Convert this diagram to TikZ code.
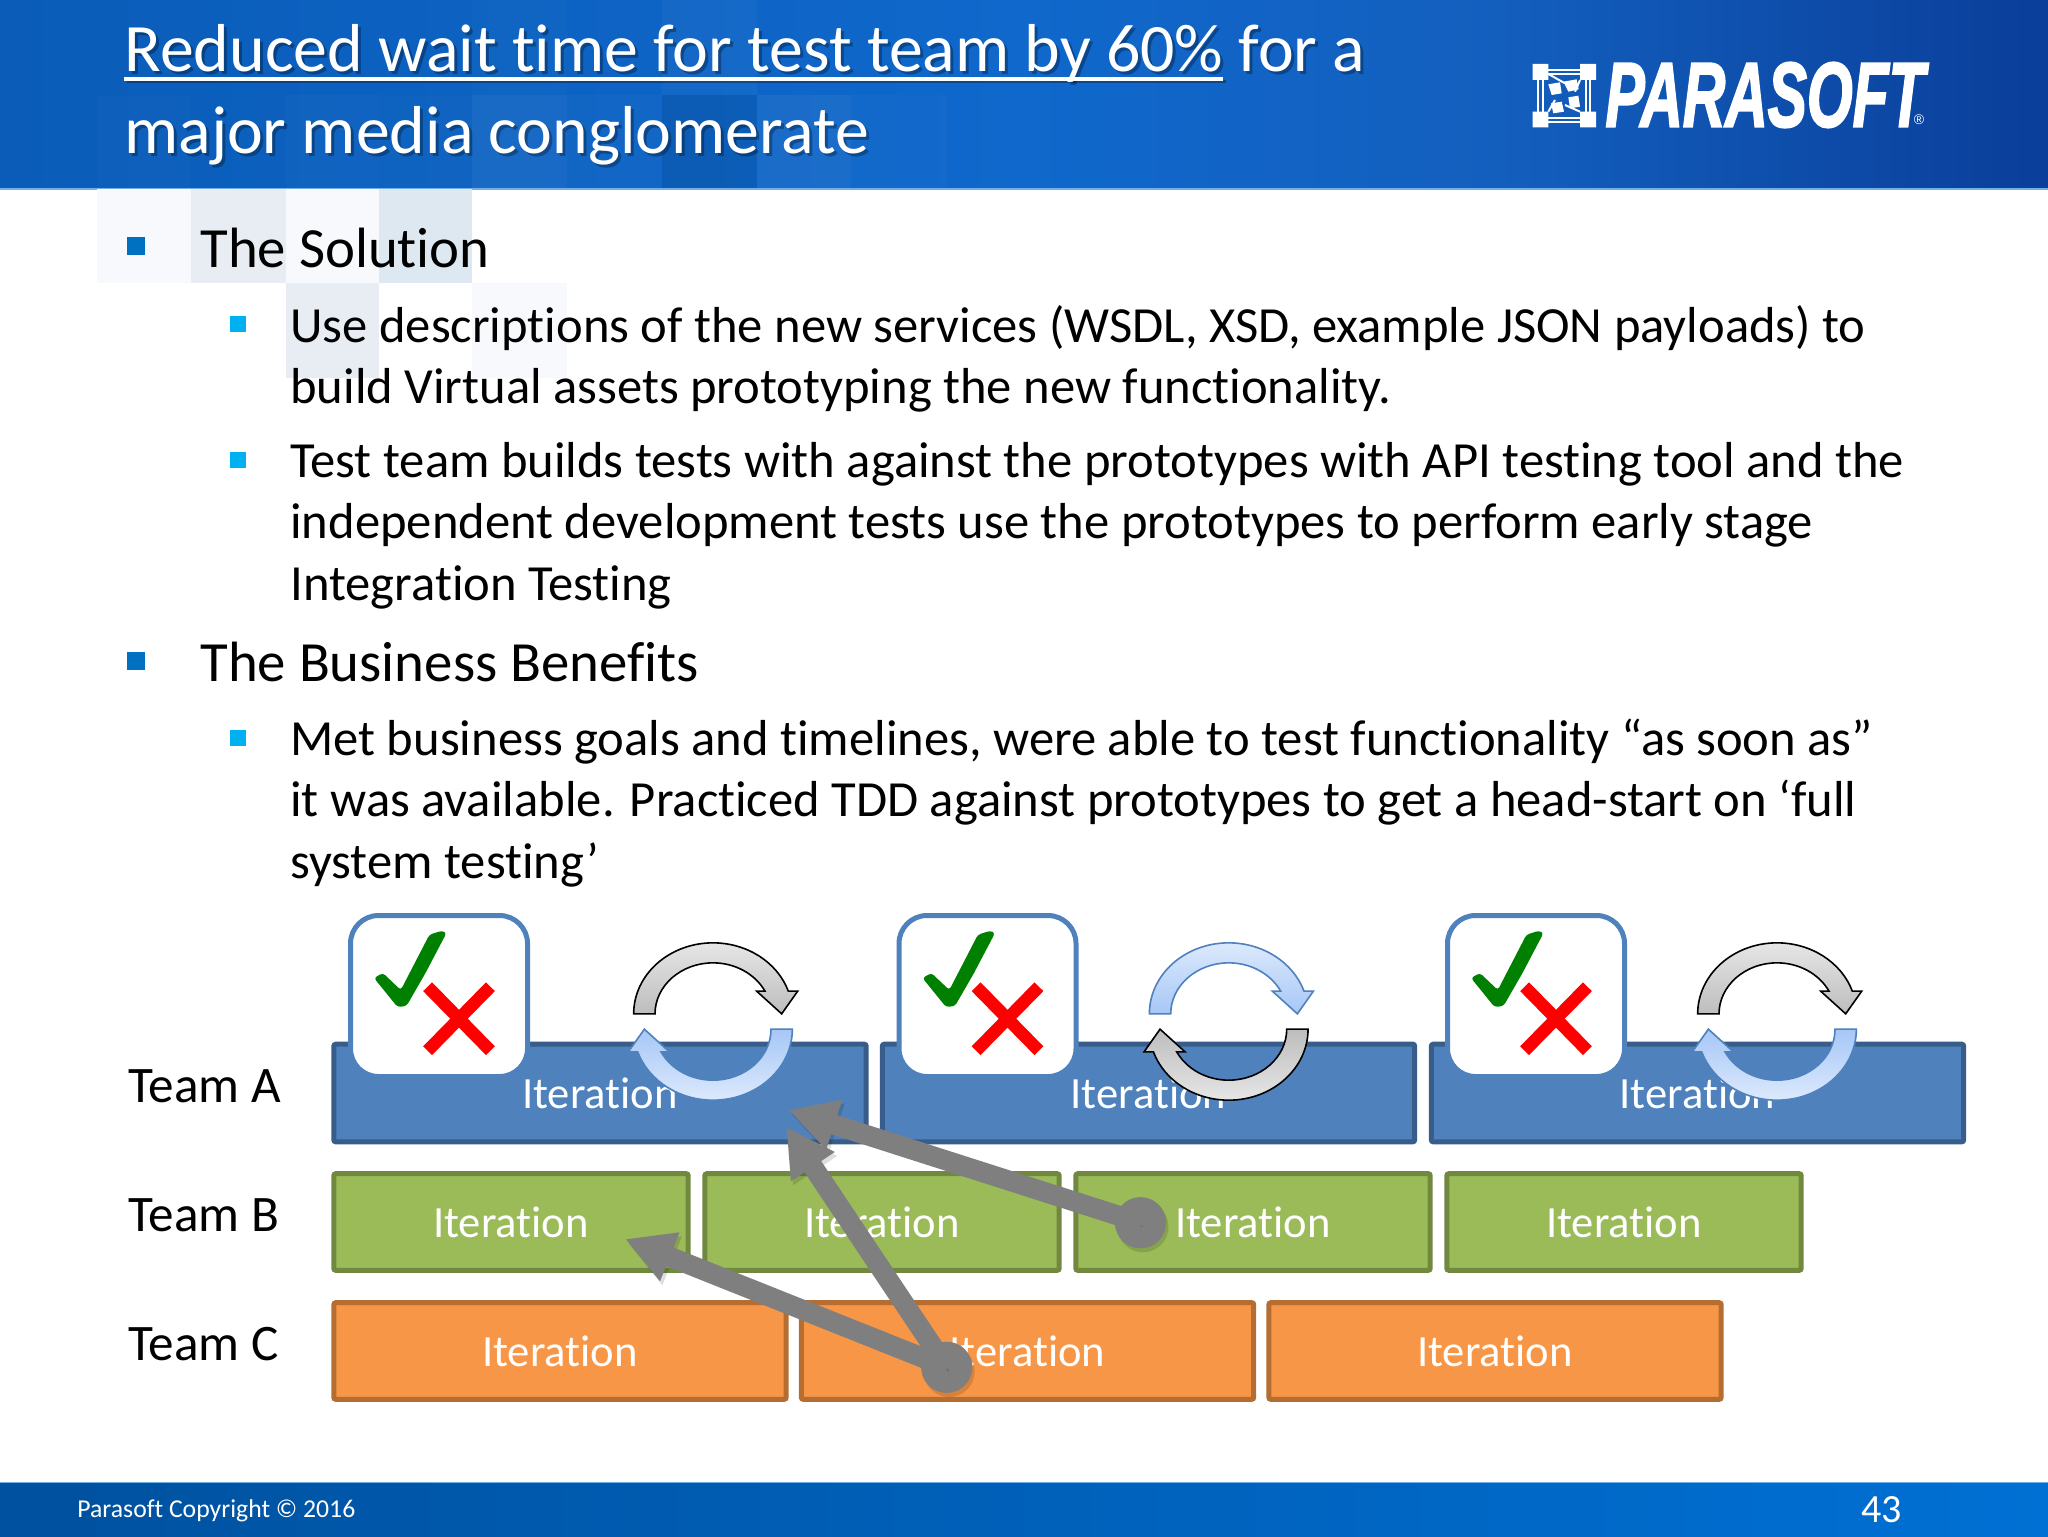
\documentclass[tikz,border=0pt]{standalone}
\usepackage{fontspec}
\setmainfont{Carlito}[Ligatures=NoCommon]
\newfontfamily\logofont{Liberation Sans}[BoldItalicFeatures={FakeBold=2.5}]
\newfontfamily\regfont{Liberation Sans}
\usetikzlibrary{arrows.meta}
\definecolor{barA}{HTML}{4F81BD}\definecolor{barAline}{HTML}{385D8A}
\definecolor{barB}{HTML}{9BBB59}\definecolor{barBline}{HTML}{71893F}
\definecolor{barC}{HTML}{F79646}\definecolor{barCline}{HTML}{B66D31}
\definecolor{linkgrey}{HTML}{7F7F7F}
\definecolor{bulA}{HTML}{0070C0}\definecolor{bulB}{HTML}{00B0F0}
\definecolor{hdrL}{HTML}{0A5CB8}\definecolor{hdrM}{HTML}{1068CC}\definecolor{hdrN}{HTML}{135FBE}\definecolor{hdrR}{HTML}{0A3E9A}
\definecolor{ftrL}{HTML}{00519F}\definecolor{ftrM}{HTML}{005FB8}\definecolor{ftrR}{HTML}{0070D4}
\definecolor{edge}{HTML}{6FB0E8}
\definecolor{tickgreen}{HTML}{008000}
\definecolor{blueT}{HTML}{DCE9FC}\definecolor{blueB}{HTML}{A6C7F7}
\definecolor{greyT}{HTML}{E6E6E6}\definecolor{greyB}{HTML}{BDBDBD}
\definecolor{tintA}{HTML}{F8F9FC}\definecolor{tintB}{HTML}{E8EDF4}\definecolor{tintC}{HTML}{DDE8F0}
\pgfdeclarehorizontalshading{headerband}{100bp}{color(0bp)=(hdrL); color(25bp)=(hdrL); color(50bp)=(hdrM); color(61.6bp)=(hdrN); color(75bp)=(hdrR); color(100bp)=(hdrR)}
\tikzset{
  barbox/.style={draw=#1line,fill=#1,line width=2.5pt,rounded corners=1pt,inner sep=0,text=white,font=\fontsize{22.3}{26}\selectfont},
  cardbox/.style={draw=barA,fill=white,line width=2.5pt,rounded corners=14pt},
  teamlabel/.style={anchor=base west,inner sep=0,font=\fontsize{25.6}{30}\selectfont},
  lone/.style={anchor=base west,inner sep=0,font=\fontsize{28.4}{32}\selectfont},
  ltwo/.style={anchor=base west,inner sep=0,font=\fontsize{25.3}{30.7}\selectfont},
  titletxt/.style={anchor=base west,inner sep=0,text=white,font=\fontsize{33.9}{40.7}\selectfont},
  shadowtxt/.style={titletxt,text=black,text opacity=0.3},
  softshadow/.style={preaction={#1,opacity=0.13,transform canvas={shift={(1.2pt,-2pt)}}}},
  dotnode/.style={circle,fill=linkgrey,inner sep=0,minimum size=25.6pt,softshadow={fill=black}},
  link/.style={line width=10pt,draw=linkgrey,-{Triangle[length=24pt,width=24.5pt]},softshadow={draw=black}},
  bulone/.style={fill=bulA,inner sep=0,minimum size=9pt},
  bultwo/.style={fill=bulB,inner sep=0,minimum size=8pt},
  liteTile/.style={fill=white,opacity=#1},
  darkTile/.style={fill=black,opacity=#1},
}
\newcommand\titleul[1]{\setbox0\hbox{#1}\rlap{\rule[-4.4pt]{\wd0}{1.6pt}}\box0\relax}
% one curved arrow of a cycle: centre x, centre y, rotation, outline, top colour, bottom colour
\newcommand\cyclearrow[6]{%
  \begin{scope}[shift={(#1,#2)},scale=1/3,rotate=#3]
    \draw[draw=#4,line width=0.8pt,line join=miter,top color=#5,bottom color=#6]
      (-238,-23) .. controls (-238,-141) and (-131,-236) .. (0,-236)
      .. controls (102,-236) and (193,-178) .. (226,-91) -- (254,-91) -- (206,-23) -- (131,-91) -- (156,-91)
      .. controls (126,-143) and (66,-176) .. (0,-176)
      .. controls (-96,-176) and (-174,-107) .. (-174,-23) -- cycle;
  \end{scope}}
% tick and cross of a card whose outer top left corner is given
\newcommand\checkcross[2]{%
  \begin{scope}[shift={(#1,#2)}]
    \fill[tickgreen,rounded corners=1.5pt] (27.5,65) -- (36.4,60) -- (54.3,77) -- (82.9,21.7) -- (95.4,17.7) -- (100,20) -- (79,60) -- (60,93) -- (51,94) -- cycle;
    \draw[red,line width=6.25pt] (81.1,73.7) -- (143.9,137.7) (143.9,73.7) -- (81.1,137.7);
  \end{scope}}
\begin{document}
\begin{tikzpicture}[x=0.5pt,y=-0.5pt]
\useasboundingbox (0,0) rectangle (2048,1536);
\fill[white] (0,0) rectangle (2048,1536);
% header band
\shade[shading=headerband] (0,0) rectangle (2048,189);
\fill[liteTile=0.015] (97,95) rectangle (191,189);
\fill[liteTile=0.02] (286,95) rectangle (379,189);
\fill[liteTile=0.015] (379,95) rectangle (472,189);
\fill[liteTile=0.05] (472,95) rectangle (567,189);
\fill[liteTile=0.02] (567,95) rectangle (662,189);
\fill[darkTile=0.08] (662,95) rectangle (757,189);
\fill[liteTile=0.05] (757,95) rectangle (851,189);
\fill[liteTile=0.02] (851,95) rectangle (947,189);
\fill[liteTile=0.03] (662,0) rectangle (757,95);
\fill[liteTile=0.015] (472,0) rectangle (567,95);
\fill[edge] (0,187.5) rectangle (2048,189.5);
% pale tiles under the header
\fill[tintA] (97,189) rectangle (191,283);
\fill[tintB] (191,189) rectangle (286,283);
\fill[tintA] (286,189) rectangle (379,283);
\fill[tintC] (379,189) rectangle (472,283);
\fill[tintB] (286,283) rectangle (379,378);
\fill[tintA] (472,283) rectangle (567,378);
% footer band
\shade[left color=ftrL,middle color=ftrM,right color=ftrR] (0,1482) rectangle (2048,1536);
\fill[edge] (0,1481.5) rectangle (2048,1483);
\node[anchor=base west,inner sep=0,text=white,font=\fontsize{12.85}{15}\selectfont] (copy) at (77,1517) {Parasoft Copyright © 2016};
\node[anchor=base west,inner sep=0,text=white,font=\fontsize{20}{24}\selectfont] (page) at (1861,1522) {43};
% title
\node[shadowtxt] (titleshadowA) at (127,74.5) {\titleul{Reduced wait time for test team by 60\%} for a};
\node[shadowtxt] (titleshadowB) at (127,156) {major media conglomerate};
\node[titletxt] (titleA) at (124,71.7) {\titleul{Reduced wait time for test team by 60\%} for a};
\node[titletxt] (titleB) at (124,153) {major media conglomerate};
% logo
\node[anchor=center,inner sep=0,text=white] (logo) at (1765,95) {\resizebox{159.5pt}{32pt}{\logofont\bfseries\itshape PARASOFT}};
\node[anchor=center,inner sep=0,text=white,font=\regfont\fontsize{7}{8}\selectfont] (reg) at (1919,120) {®};
\begin{scope}[shift={(1520,50)},scale=1/3]
  \fill[white] (38,42) rectangle (85,90) (180,42) rectangle (228,90) (38,185) rectangle (85,232) (180,185) rectangle (228,232);
  \draw[white,line width=1pt] (85,60) -- (180,60) (85,72) -- (180,72) (85,203) -- (180,203) (85,215) -- (180,215)
     (55,90) -- (55,185) (68,90) -- (68,185) (198,90) -- (198,185) (211,90) -- (211,185);
  \draw[white,line width=1pt] (85,72) -- (135,100) (180,90) -- (165,125) (180,185) -- (135,165) (85,185) -- (105,150);
  \fill[white] (85,103) -- (120,97) -- (125,130) -- (95,135) -- cycle
     (130,95) -- (170,88) -- (176,118) -- (145,125) -- cycle
     (145,142) -- (175,137) -- (180,170) -- (150,175) -- cycle
     (93,160) -- (125,155) -- (132,185) -- (100,190) -- cycle;
\end{scope}
% body text
\node[bulone] (b1) at (136,246) {};
\node[lone] (t1) at (200,267) {The Solution};
\node[bultwo] (b2) at (237.5,324) {};
\node[ltwo] (t2) at (290,342.5) {\vtop{\hbox{Use descriptions of the new services (WSDL, XSD, example JSON payloads) to}\hbox{build Virtual assets prototyping the new functionality.}}};
\node[bultwo] (b3) at (237.5,460) {};
\node[ltwo] (t3) at (290,477.5) {\vtop{\hbox{Test team builds tests with against the prototypes with API testing tool and the}\hbox{independent development tests use the prototypes to perform early stage}\hbox{Integration Testing}}};
\node[bulone] (b4) at (136,661) {};
\node[lone] (t4) at (200,681) {The Business Benefits};
\node[bultwo] (b5) at (237.5,738) {};
\node[ltwo] (t5) at (290,755.5) {\vtop{\hbox{Met business goals and timelines, were able to test functionality “as soon as”}\hbox{it was available. Practiced TDD against prototypes to get a head-start on ‘full}\hbox{system testing’}}};
% team labels
\node[teamlabel] (ta) at (128,1102) {Team A};
\node[teamlabel] (tb) at (128,1231) {Team B};
\node[teamlabel] (tc) at (128,1360) {Team C};
% iteration bars
\newcommand\iterbar[6]{\node[barbox=#2,minimum width=#5*0.5pt-1.8pt,minimum height=#6*0.5pt-2.2pt] (#1) at (#3,#4) {Iteration};}
\iterbar{a1}{barA}{600}{1093}{536}{102}
\iterbar{a2}{barA}{1148.5}{1093}{536}{102}
\iterbar{a3}{barA}{1697.5}{1093}{536}{102}
\iterbar{b1bar}{barB}{511}{1222}{358}{101}
\iterbar{b2bar}{barB}{882}{1222}{358}{101}
\iterbar{b3bar}{barB}{1253}{1222}{358}{101}
\iterbar{b4bar}{barB}{1624}{1222}{358}{101}
\iterbar{c1}{barC}{560}{1351}{456}{101}
\iterbar{c2}{barC}{1027.5}{1351}{456}{101}
\iterbar{c3}{barC}{1495}{1351}{456}{101}
% cards
\node[cardbox,minimum width=88.5pt,minimum height=80.5pt,inner sep=0] (card1) at (439,996) {};
\node[cardbox,minimum width=88.5pt,minimum height=80.5pt,inner sep=0] (card2) at (987.5,996) {};
\node[cardbox,minimum width=88.5pt,minimum height=80.5pt,inner sep=0] (card3) at (1536,996) {};
\checkcross{346.5}{913}
\checkcross{895}{913}
\checkcross{1443.5}{913}
% cycle arrows
\cyclearrow{713}{1021.5}{0}{black}{greyT}{greyB}
\cyclearrow{713}{1021.5}{180}{barA}{blueB}{blueT}
\cyclearrow{1228.7}{1021.5}{0}{barA}{blueT}{blueB}
\cyclearrow{1228.7}{1021.5}{180}{black}{greyB}{greyT}
\cyclearrow{1777}{1021.5}{0}{black}{greyT}{greyB}
\cyclearrow{1777}{1021.5}{180}{barA}{blueB}{blueT}
% dependency arrows
\coordinate (tipA) at (788.5,1110);
\coordinate (tipB) at (786.2,1126.7);
\coordinate (tipC) at (625.2,1239);
\node[dotnode] (dotA) at (1140.5,1222.7) {};
\node[dotnode] (dotB) at (946.7,1367.3) {};
\draw[link] (dotA.center) -- (tipA);
\draw[link] (dotB.center) -- (tipB);
\draw[link] (dotB.center) -- (tipC);
\end{tikzpicture}
\end{document}
